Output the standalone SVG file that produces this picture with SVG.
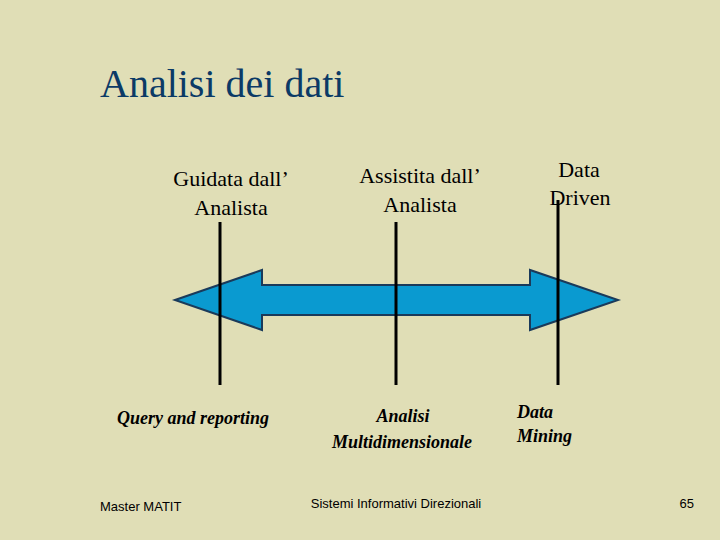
<svg xmlns="http://www.w3.org/2000/svg" width="720" height="540" viewBox="0 0 720 540">
<style>
.s{font-family:"Liberation Serif",serif;font-size:22px;fill:#000;text-anchor:middle}
.b{font-family:"Liberation Serif",serif;font-size:18px;font-weight:bold;font-style:italic;fill:#000;text-anchor:middle}
.f{font-family:"Liberation Sans",sans-serif;font-size:13px;fill:#000}
.v{stroke:#000;stroke-width:3}
</style>
<rect width="720" height="540" fill="#E0DEB6"/>
<text x="100" y="97" font-family="Liberation Serif,serif" font-size="40" fill="#0B3A66">Analisi dei dati</text>
<g id="arrow"><polygon points="175,300 262,270 262,285 530,285 530,270 618,300 530,330 530,315 262,315 262,330" fill="#0A9AD0" stroke="#1A3A5A" stroke-width="2"/></g>
<g id="connectors">
<line class="v" x1="220" y1="222" x2="220" y2="385"/>
<line class="v" x1="396" y1="222" x2="396" y2="385"/>
<line class="v" x1="558" y1="200" x2="558" y2="385"/>
</g>
<g id="n1"><text class="s" x="231" y="186">Guidata dall’</text><text class="s" x="231" y="215">Analista</text></g>
<g id="n2"><text class="s" x="420" y="183">Assistita dall’</text><text class="s" x="420" y="212">Analista</text></g>
<g id="n3"><text class="s" x="579" y="177">Data</text><text class="s" x="580" y="205">Driven</text></g>
<g id="l1"><text class="b" x="193" y="424">Query and reporting</text></g>
<g id="l2"><text class="b" x="403" y="422">Analisi</text><text class="b" x="402" y="448">Multidimensionale</text></g>
<g id="l3"><text class="b" x="517" y="418" text-anchor="start" style="text-anchor:start">Data</text><text class="b" x="517" y="442" style="text-anchor:start">Mining</text></g>
<text class="f" x="100" y="511">Master MATIT</text>
<text class="f" x="396" y="508" text-anchor="middle">Sistemi Informativi Direzionali</text>
<text class="f" x="694" y="508" text-anchor="end">65</text>
</svg>
